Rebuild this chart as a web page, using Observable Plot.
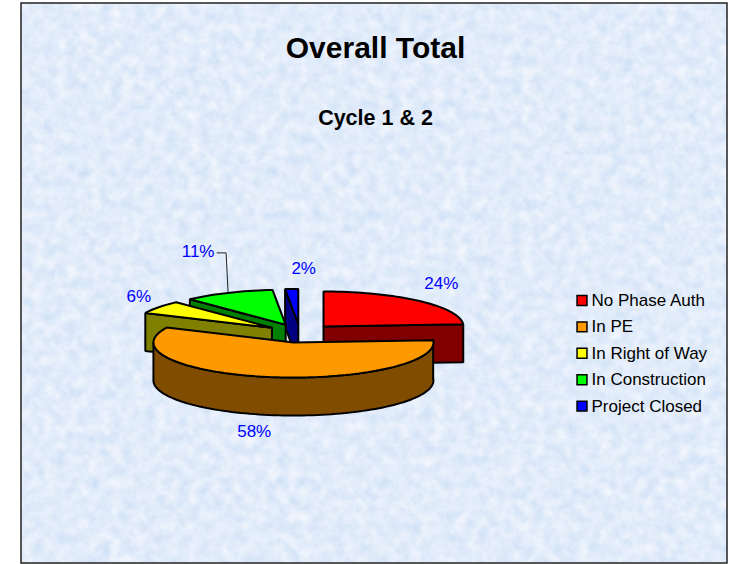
<!DOCTYPE html>
<html>
<head>
<meta charset="utf-8">
<script src="https://cdn.jsdelivr.net/npm/d3@7"></script>
<script src="https://cdn.jsdelivr.net/npm/@observablehq/plot@0.6"></script>
<style>
html,body{margin:0;padding:0;background:#fff;}
#wrap{position:relative;width:739px;height:564px;overflow:hidden;}
#wrap svg{position:absolute;left:0;top:0;}
</style>
</head>
<body>
<div id="wrap">
<svg width="739" height="564" aria-hidden="true">
  <filter id="paper" x="0" y="0" width="100%" height="100%" color-interpolation-filters="sRGB">
    <feTurbulence type="fractalNoise" baseFrequency="0.09" numOctaves="5" seed="7"/>
    <feColorMatrix type="matrix" values="0.17 0.05 0 0 0.775  0.10 0.04 0 0 0.855  0.04 0 0 0 0.96  0 0 0 0 1"/>
  </filter>
  <rect x="21" y="3" width="706" height="560" filter="url(#paper)"/>
</svg>
<div id="chart"></div>
</div>
<script>
const categories = ["No Phase Auth", "In PE", "In Right of Way", "In Construction", "Project Closed"];
const values = [24, 58, 6, 10.5, 1.5];
const topColors = ["#ff0000", "#ff9900", "#ffff00", "#00ff00", "#0000ff"];
const sideColors = ["#800000", "#804d00", "#808000", "#008000", "#000080"];
const titleText = "Overall Total";
const subtitleText = "Cycle 1 & 2";

// projection of the tilted, exploded pie
const cx = 299.4, cy = 332.8, rx = 140, ry = 35, depth = 38, ex = 34.5, ey = 9.35;
const rad = Math.PI / 180;
const total = d3.sum(values);
const cum = d3.cumsum(values);
const slices = values.map((v, i) => {
  const a0 = (i ? cum[i - 1] : 0) / total * 360, a1 = cum[i] / total * 360, m = (a0 + a1) / 2;
  return {i, v, a0, a1, m, ax: cx + ex * Math.sin(m * rad), ay: cy - ey * Math.cos(m * rad)};
});
const rim = (s, a, d = 0) => ({x: s.ax + rx * Math.sin(a * rad), y: s.ay - ry * Math.cos(a * rad) + d});
const arc = (s, a, b, d = 0) => {
  const n = Math.max(2, Math.ceil(Math.abs(b - a) / 2));
  return d3.range(n + 1).map(k => rim(s, a + (b - a) * k / n, d));
};
const closed = pts => [...pts, pts[0]];
const apex = (s, d = 0) => ({x: s.ax, y: s.ay + d});
const face = (s, a) => closed([apex(s), rim(s, a), rim(s, a, depth), apex(s, depth)]);
const wall = (s, a, b) => closed([...arc(s, a, b), ...arc(s, b, a, depth)]);
const topFace = s => closed([apex(s), ...arc(s, s.a0, s.a1)]);

const edge = {x: "x", y: "y", stroke: "#000", strokeWidth: 2, strokeLinejoin: "miter"};
const poly = (pts, fill) => Plot.line(pts, {...edge, fill});

// back to front
const order = [4, 3, 2, 0, 1];
const pieMarks = order.flatMap(i => {
  const s = slices[i], out = [];
  if (s.a0 > 180) out.push(poly(face(s, s.a0), sideColors[i]));
  if (s.a1 < 180) out.push(poly(face(s, s.a1), sideColors[i]));
  if (s.a0 < 270 && s.a1 > 90) out.push(poly(wall(s, Math.max(s.a0, 60), Math.min(s.a1, 270)), sideColors[i]));
  out.push(poly(topFace(s), topColors[i]));
  return out;
});

// data labels placed relative to each slice's rim
const labelShift = [[22, -17], [-13, 54.6], [-20, -11], [-30, -41], [12, -20]];
const labels = slices.map(s => {
  const p = rim(s, s.m);
  return {x: p.x + labelShift[s.i][0], y: p.y + labelShift[s.i][1], t: Math.round(s.v) + "%"};
});
const gs = slices[3], gp = rim(gs, gs.m), gl = labels[3];
const leader = [{x: gl.x + 19, y: gl.y + 1}, {x: gl.x + 28, y: gl.y + 1}, gp];

const legend = categories.map((c, i) => ({c, i, y: 300 + i * 26.4}));
const font = "'Liberation Sans', Arial, sans-serif";

const plot = Plot.plot({
  width: 739, height: 564,
  marginTop: 0, marginRight: 0, marginBottom: 0, marginLeft: 0,
  x: {domain: [0, 739], range: [0, 739], axis: null},
  y: {domain: [0, 564], range: [0, 564], axis: null},
  style: {background: "transparent", fontFamily: font},
  marks: [
    Plot.rect([{x1: 21, x2: 727, y1: 3, y2: 563}], {x1: "x1", x2: "x2", y1: "y1", y2: "y2", fill: "none", stroke: "#222", strokeWidth: 1.5}),
    Plot.text([titleText], {x: () => 375, y: () => 48, text: d => d, fontSize: 30, fontWeight: "bold", fill: "#000", lineAnchor: "middle"}),
    Plot.text([subtitleText], {x: () => 375, y: () => 118, text: d => d, fontSize: 21.5, fontWeight: "bold", fill: "#000", lineAnchor: "middle"}),
    Plot.line(leader, {x: "x", y: "y", stroke: "#222", strokeWidth: 1}),
    ...pieMarks,
    Plot.text(labels, {x: "x", y: "y", text: "t", fontSize: 17, fill: "#0000ff", lineAnchor: "middle"}),
    Plot.dot(legend, {x: () => 581.5, y: "y", symbol: "square", r: 5.6, fill: d => topColors[d.i], stroke: "#000", strokeWidth: 1.5}),
    Plot.text(legend, {x: () => 591, y: "y", text: "c", textAnchor: "start", fontSize: 17, fill: "#000", lineAnchor: "middle"})
  ]
});
document.getElementById("chart").appendChild(plot);
</script>
</body>
</html>
